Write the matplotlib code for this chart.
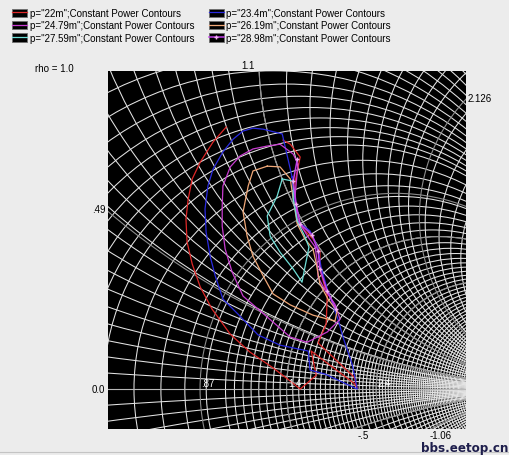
import numpy as np
import matplotlib
matplotlib.use('Agg')
import matplotlib.pyplot as plt
from matplotlib.patches import Circle, Rectangle
from matplotlib.lines import Line2D
from matplotlib.legend_handler import HandlerLine2D

# zoomed window of the reflection-coefficient plane (real / imag)
re_lim = (-0.321, 0.657)
im_lim = (-0.109, 0.869)

# smith grid: full circles plus finer ones drawn only near the real axis / left side
r_full = list(np.round(np.arange(-0.3, 0.501, 0.05), 3)) + [0.6, 0.7, 0.8, 0.9] \
    + list(np.round(np.arange(1.0, 5.01, 0.1), 3))
r_fine = list(np.round(np.arange(1.05, 4.96, 0.1), 3))
r_fine_xmax = 0.5
x_pos = list(np.round(np.arange(0.1, 1.001, 0.1), 3)) + list(np.round(np.arange(1.1, 2.001, 0.1), 3)) \
    + list(np.round(np.arange(2.2, 4.01, 0.2), 3))
x_full = x_pos + [-v for v in x_pos]
x_fine_pos = list(np.round(np.arange(0.05, 0.951, 0.1), 3))
x_fine = x_fine_pos + [-v for v in x_fine_pos]
x_fine_rmax = 1.0
x_fine_near_axis = 0.25   # fine arcs this close to the axis run all the way right

# labelled circles
r_marks = [0.87, 1.4, 2.4]
r_mark_text = ['.87', '1.4', '2.4']
x_left = [0.49]
x_left_text = ['.49']
x_top = [1.1]
x_top_text = ['1.1']
x_right = [2.126]
x_right_text = ['2.126']
x_bottom = [-0.5, -1.06]
x_bottom_text = ['-.5', '-1.06']

p22_re = [0.002, -0.034, -0.069, -0.091, -0.102, -0.108, -0.105, -0.091, -0.069, -0.037, 0.013, 0.067,
          0.127, 0.177, 0.204, 0.248, 0.234, 0.351, 0.360, 0.351, 0.253, 0.275, 0.278, 0.258, 0.258,
          0.239, 0.196, 0.190, 0.190, 0.204, 0.177, 0.157]
p22_im = [0.716, 0.675, 0.620, 0.574, 0.519, 0.464, 0.402, 0.342, 0.279, 0.219, 0.150, 0.101,
          0.060, 0.022, 0.000, 0.038, 0.104, 0.016, 0.003, 0.033, 0.126, 0.178, 0.254, 0.328, 0.377,
          0.410, 0.454, 0.519, 0.566, 0.634, 0.669, 0.680]

p234_re = [0.182, 0.196, 0.231, 0.253, 0.261, 0.278, 0.308, 0.321, 0.346, 0.360, 0.272, 0.231, 0.226,
           0.149, 0.089, 0.034, -0.007, -0.028, -0.042, -0.053, -0.056, -0.048, -0.034, -0.007,
           0.021, 0.048, 0.075, 0.103, 0.155, 0.182]
p234_im = [0.579, 0.459, 0.432, 0.383, 0.333, 0.273, 0.189, 0.142, 0.068, 0.000, 0.041, 0.052, 0.104,
           0.120, 0.148, 0.205, 0.246, 0.309, 0.363, 0.429, 0.492, 0.555, 0.601, 0.648,
           0.683, 0.705, 0.713, 0.710, 0.697, 0.579]

p2479_re = [0.149, 0.185, 0.198, 0.190, 0.196, 0.226, 0.245, 0.250, 0.253, 0.272, 0.299, 0.313, 0.278,
            0.223, 0.177, 0.130, 0.048, 0.018, -0.001, -0.009, -0.009, -0.007, 0.013, 0.040, 0.075,
            0.114, 0.149]
p2479_im = [0.669, 0.642, 0.615, 0.527, 0.464, 0.415, 0.388, 0.352, 0.306, 0.270, 0.232, 0.191, 0.156,
            0.128, 0.142, 0.183, 0.254, 0.320, 0.383, 0.445, 0.500, 0.555, 0.607, 0.637, 0.656,
            0.664, 0.669]

p2619_re = [0.114, 0.075, 0.062, 0.048, 0.059, 0.075, 0.103, 0.130, 0.177, 0.239, 0.299, 0.305, 0.280,
            0.258, 0.248, 0.239, 0.217, 0.196, 0.185, 0.177, 0.149, 0.114]
p2619_im = [0.609, 0.596, 0.555, 0.484, 0.418, 0.363, 0.309, 0.260, 0.230, 0.202, 0.186, 0.213, 0.246,
            0.287, 0.342, 0.383, 0.410, 0.451, 0.519, 0.574, 0.607, 0.609]

p2759_re = [0.155, 0.141, 0.114, 0.122, 0.149, 0.185, 0.209, 0.217, 0.228, 0.215, 0.196, 0.185, 0.185, 0.155]
p2759_im = [0.574, 0.527, 0.473, 0.418, 0.374, 0.328, 0.292, 0.333, 0.388, 0.421, 0.459, 0.519, 0.568, 0.574]

p2898_re = [0.196, 0.185, 0.193, 0.204, 0.237, 0.253, 0.258, 0.278, 0.302]
p2898_im = [0.628, 0.568, 0.505, 0.451, 0.421, 0.377, 0.328, 0.268, 0.219]

powers = ['22m', '23.4m', '24.79m', '26.19m', '27.59m', '28.98m']
contours = [(p22_re, p22_im), (p234_re, p234_im), (p2479_re, p2479_im),
            (p2619_re, p2619_im), (p2759_re, p2759_im), (p2898_re, p2898_im)]
colors = ['#e02828', '#2a2ae0', '#c83cd0', '#f0a878', '#70e0d8', '#c040e8']

grid_col = '#e4e4e4'
mark_col = '#8c8c8c'
font = 'Liberation Sans'


def gamma(z):
    return (z - 1) / (z + 1)


def r_circle(r):
    return (r / (1 + r), 0.0), 1 / abs(1 + r)


def x_circle(x):
    return (1.0, 1 / x), 1 / abs(x)


def x_arc_at_re(x, re, upper=False):
    (cx, cy), R = x_circle(x)
    d = np.sqrt(R ** 2 - (re - cx) ** 2)
    return cy + d if upper else cy - d


def x_arc_at_im(x, im):
    (cx, cy), R = x_circle(x)
    return cx - np.sqrt(R ** 2 - (im - cy) ** 2)


fig = plt.figure(figsize=(5.10, 4.56), dpi=100, facecolor='#ececec')
ax = fig.add_axes([108 / 510, 26 / 456, 358 / 510, 358 / 456], facecolor='black')
ax.set_xlim(re_lim)
ax.set_ylim(im_lim)
ax.set_xticks([])
ax.set_yticks([])
for s in ax.spines.values():
    s.set_visible(False)

for r in r_full:
    c, R = r_circle(r)
    ax.add_patch(Circle(c, R, fill=False, ec=grid_col, lw=0.75, zorder=1))
for x in x_full:
    c, R = x_circle(x)
    ax.add_patch(Circle(c, R, fill=False, ec=grid_col, lw=0.75, zorder=1))
xs = np.linspace(-r_fine_xmax, r_fine_xmax, 200)
for r in r_fine:
    g = gamma(r + 1j * xs)
    ax.plot(g.real, g.imag, color=grid_col, lw=0.75, zorder=1)
for x in x_fine:
    rmax = 20.0 if abs(x) <= x_fine_near_axis else x_fine_rmax
    rs = np.concatenate([np.linspace(-0.3, 1.0, 200), np.linspace(1.0, rmax, 400)[1:]]) \
        if rmax > 1 else np.linspace(-0.3, rmax, 300)
    g = gamma(rs + 1j * x)
    ax.plot(g.real, g.imag, color=grid_col, lw=0.75, zorder=1)

# labelled circles in grey
for r in r_marks:
    c, R = r_circle(r)
    ax.add_patch(Circle(c, R, fill=False, ec=mark_col, lw=0.8, zorder=2))
for x in x_left + x_top + x_right + x_bottom:
    c, R = x_circle(x)
    ax.add_patch(Circle(c, R, fill=False, ec=mark_col, lw=0.8, zorder=2))
ax.axhline(0, color='#b8b8b8', lw=0.8, zorder=2)

handles = []
for (re, im), col, p in zip(contours, colors, powers):
    if p == '28.98m':
        ln, = ax.plot(re, im, color=col, lw=1.1, marker='+', ms=3, mec='#f4b0f4', zorder=3)
    else:
        ln, = ax.plot(re, im, color=col, lw=0.9, zorder=3)
    handles.append(ln)

# labels
lab = dict(fontsize=7, family=font, annotation_clip=False, textcoords='offset points')
for r, t in zip(r_marks, r_mark_text):
    ax.annotate(t, ((r - 1) / (r + 1), 0), xytext=(1, 0.5), color='white', ha='left', va='bottom', zorder=4, **lab)
ax.annotate('0.0', (re_lim[0], 0), xytext=(-2, 0), ha='right', va='center', **lab)
for x, t in zip(x_left, x_left_text):
    ax.annotate(t, (re_lim[0], x_arc_at_re(x, re_lim[0])), xytext=(-2, 2), ha='right', va='center', **lab)
for x, t in zip(x_top, x_top_text):
    ax.annotate(t, (x_arc_at_im(x, im_lim[1]), im_lim[1]), xytext=(-8, 1), ha='center', va='bottom', **lab)
for x, t in zip(x_right, x_right_text):
    ax.annotate(t, (re_lim[1], x_arc_at_re(x, re_lim[1], upper=True)), xytext=(1, 1), ha='left', va='center', **lab)
for x, t in zip(x_bottom, x_bottom_text):
    ax.annotate(t, (x_arc_at_im(x, im_lim[0]), im_lim[0]), xytext=(7, -1), ha='center', va='top', **lab)

fig.text(35 / 510, 1 - 69 / 456, 'rho = 1.0', fontsize=7, family=font, va='center')


class SwatchHandler(HandlerLine2D):
    def create_artists(self, legend, orig_handle, xdescent, ydescent, width, height, fontsize, trans):
        box = Rectangle((-xdescent, -ydescent), width, height, facecolor='black',
                        edgecolor='#707070', linewidth=0.6, transform=trans)
        arts = super().create_artists(legend, orig_handle, xdescent, ydescent, width, height, fontsize, trans)
        return [box] + arts


order = [0, 2, 4, 1, 3, 5]
fig.legend([handles[i] for i in order],
           ['p="%s";Constant Power Contours' % powers[i] for i in order],
           loc='upper left', bbox_to_anchor=(12 / 510, 1 - 9 / 456), ncol=2, frameon=False,
           prop={'family': font, 'size': 7}, handlelength=1.55, handleheight=0.9,
           handletextpad=0.25, columnspacing=1.5, labelspacing=0.25, borderpad=0, borderaxespad=0,
           handler_map={Line2D: SwatchHandler(numpoints=1)})

fig.text(508 / 510, 1 - 455 / 456, 'bbs.eetop.cn', ha='right', va='bottom', fontsize=9.5,
         fontweight='bold', fontstretch='condensed', family='DejaVu Sans', color='#1e1e4c')
fig.add_artist(Line2D([0, 1], [1 - 453 / 456] * 2, color='#c4c4c4', lw=0.8))

fig.savefig('out.png', dpi=100, facecolor=fig.get_facecolor())
